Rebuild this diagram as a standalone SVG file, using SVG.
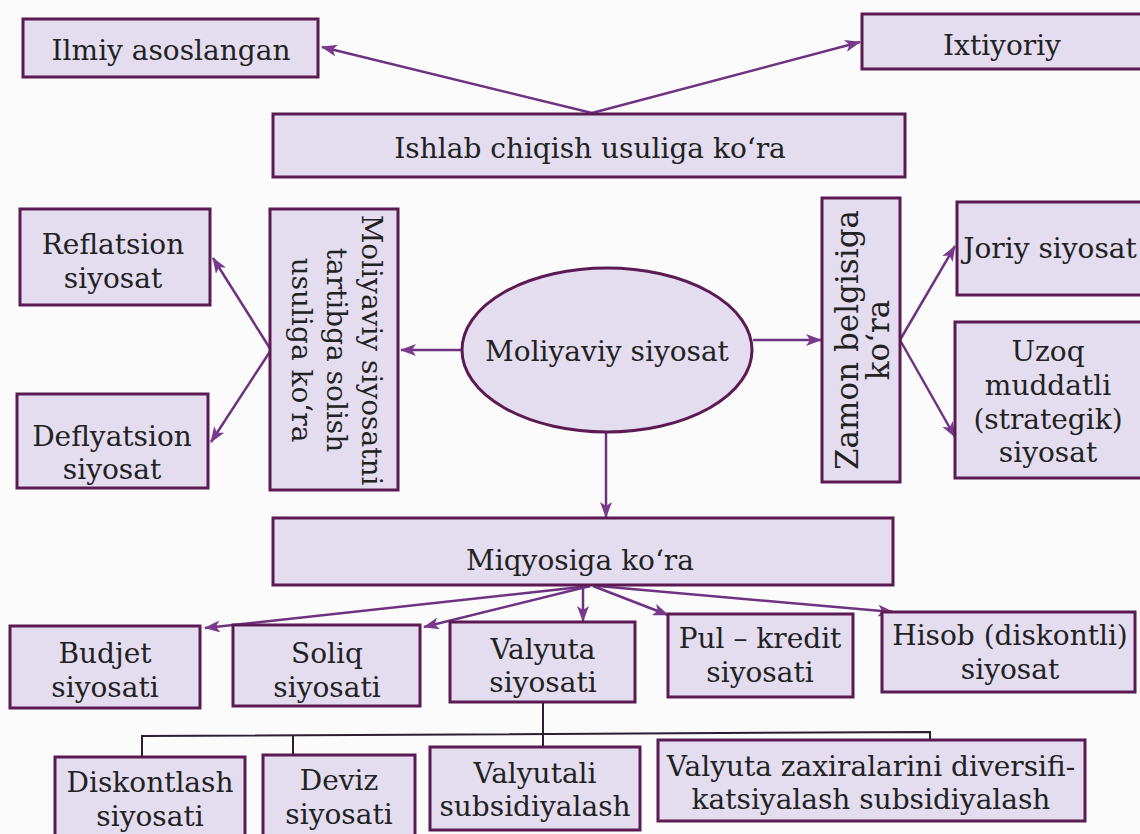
<svg xmlns="http://www.w3.org/2000/svg" width="1140" height="834" viewBox="0 0 1140 834">
<style>
.box{fill:#e4ddf0;stroke:#5c1a52;stroke-width:3}
.t{font-family:'DejaVu Serif',serif;font-size:28px;fill:#222;text-anchor:middle}
.big{font-size:31px}
.e{fill:none;stroke:#6e3380;stroke-width:2.5}
.l{fill:none;stroke:#2a2030;stroke-width:2}
</style>
<defs>
<marker id="ah" viewBox="0 0 16 12" refX="15" refY="6" markerWidth="16" markerHeight="12" markerUnits="userSpaceOnUse" orient="auto">
<path d="M0,0 L16,6 L0,12 L4,6 Z" fill="#7a3a8c"/>
</marker>
</defs>
<rect width="1140" height="834" fill="#fbfbfc"/>
<g id="connectors">
<line class="e" x1="592" y1="113" x2="322" y2="47" marker-end="url(#ah)"/>
<line class="e" x1="592" y1="113" x2="860" y2="42" marker-end="url(#ah)"/>
<line class="e" x1="271" y1="350" x2="213" y2="258" marker-end="url(#ah)"/>
<line class="e" x1="271" y1="350" x2="211" y2="442" marker-end="url(#ah)"/>
<line class="e" x1="463" y1="350" x2="401" y2="350" marker-end="url(#ah)"/>
<line class="e" x1="753" y1="340" x2="821" y2="340" marker-end="url(#ah)"/>
<line class="e" x1="900" y1="340" x2="955" y2="246" marker-end="url(#ah)"/>
<line class="e" x1="900" y1="340" x2="955" y2="437" marker-end="url(#ah)"/>
<line class="e" x1="606" y1="432" x2="606" y2="517" marker-end="url(#ah)"/>
<line class="e" x1="590" y1="586" x2="205" y2="628" marker-end="url(#ah)"/>
<line class="e" x1="590" y1="586" x2="424" y2="627" marker-end="url(#ah)"/>
<line class="e" x1="583" y1="586" x2="583" y2="621" marker-end="url(#ah)"/>
<line class="e" x1="593" y1="586" x2="668" y2="615" marker-end="url(#ah)"/>
<line class="e" x1="598" y1="586" x2="893" y2="612" marker-end="url(#ah)"/>
<path class="l" d="M543,702 V734"/>
<path class="l" d="M142,757 V736 L930,732 V740"/>
<path class="l" d="M293,755 V735"/>
<path class="l" d="M543,747 V734"/>
</g>
<g id="n-ilmiy"><rect class="box" x="23" y="19" width="295" height="58"/><text class="t" x="171" y="60">Ilmiy asoslangan</text></g>
<g id="n-ixtiyoriy"><rect class="box" x="862" y="14" width="282" height="55"/><text class="t" x="1002" y="55">Ixtiyoriy</text></g>
<g id="n-ishlab"><rect class="box" x="273" y="114" width="632" height="63"/><text class="t" x="590" y="158">Ishlab chiqish usuliga koʻra</text></g>
<g id="n-reflatsion"><rect class="box" x="20" y="209" width="190" height="96"/><text class="t" x="113" y="254">Reflatsion</text><text class="t" x="113" y="288">siyosat</text></g>
<g id="n-deflyatsion"><rect class="box" x="17" y="394" width="191" height="94"/><text class="t" x="112" y="446">Deflyatsion</text><text class="t" x="112" y="479">siyosat</text></g>
<g id="n-tartibga"><rect class="box" x="270" y="209" width="128" height="281"/>
<g transform="translate(334,350) rotate(90)"><text class="t" x="0" y="-28">Moliyaviy siyosatni</text><text class="t" x="0" y="7">tartibga solish</text><text class="t" x="0" y="42">usuliga koʻra</text></g></g>
<g id="n-moliyaviy"><ellipse cx="607" cy="350" rx="145" ry="82" fill="#e4ddf0" stroke="#5c1a52" stroke-width="3"/><text class="t" x="607" y="361">Moliyaviy siyosat</text></g>
<g id="n-zamon"><rect class="box" x="822" y="198" width="78" height="284"/>
<g transform="translate(861,340) rotate(-90)"><text class="t big" x="0" y="-3">Zamon belgisiga</text><text class="t big" x="0" y="28">koʻra</text></g></g>
<g id="n-joriy"><rect class="box" x="957" y="202" width="186" height="93"/><text class="t" x="1050" y="258">Joriy siyosat</text></g>
<g id="n-uzoq"><rect class="box" x="955" y="322" width="188" height="156"/><text class="t" x="1048" y="361">Uzoq</text><text class="t" x="1048" y="395">muddatli</text><text class="t" x="1048" y="429">(strategik)</text><text class="t" x="1048" y="462">siyosat</text></g>
<g id="n-miqyos"><rect class="box" x="273" y="518" width="620" height="67"/><text class="t" x="580" y="570">Miqyosiga koʻra</text></g>
<g id="n-budjet"><rect class="box" x="10" y="626" width="190" height="82"/><text class="t" x="105" y="663">Budjet</text><text class="t" x="105" y="697">siyosati</text></g>
<g id="n-soliq"><rect class="box" x="233" y="625" width="187" height="81"/><text class="t" x="327" y="663">Soliq</text><text class="t" x="327" y="697">siyosati</text></g>
<g id="n-valyuta"><rect class="box" x="450" y="622" width="185" height="80"/><text class="t" x="543" y="659">Valyuta</text><text class="t" x="543" y="692">siyosati</text></g>
<g id="n-pul"><rect class="box" x="668" y="614" width="185" height="83"/><text class="t" x="760" y="648">Pul – kredit</text><text class="t" x="760" y="682">siyosati</text></g>
<g id="n-hisob"><rect class="box" x="882" y="612" width="253" height="80"/><text class="t" x="1010" y="645">Hisob (diskontli)</text><text class="t" x="1010" y="679">siyosat</text></g>
<g id="n-diskontlash"><rect class="box" x="55" y="757" width="190" height="80"/><text class="t" x="150" y="792">Diskontlash</text><text class="t" x="150" y="826">siyosati</text></g>
<g id="n-deviz"><rect class="box" x="263" y="755" width="152" height="82"/><text class="t" x="339" y="790">Deviz</text><text class="t" x="339" y="824">siyosati</text></g>
<g id="n-valyutali"><rect class="box" x="430" y="747" width="210" height="83"/><text class="t" x="535" y="783">Valyutali</text><text class="t" x="535" y="816">subsidiyalash</text></g>
<g id="n-zaxira"><rect class="box" x="658" y="740" width="427" height="81"/><text class="t" x="871" y="776">Valyuta zaxiralarini diversifi-</text><text class="t" x="871" y="809">katsiyalash subsidiyalash</text></g>
</svg>
